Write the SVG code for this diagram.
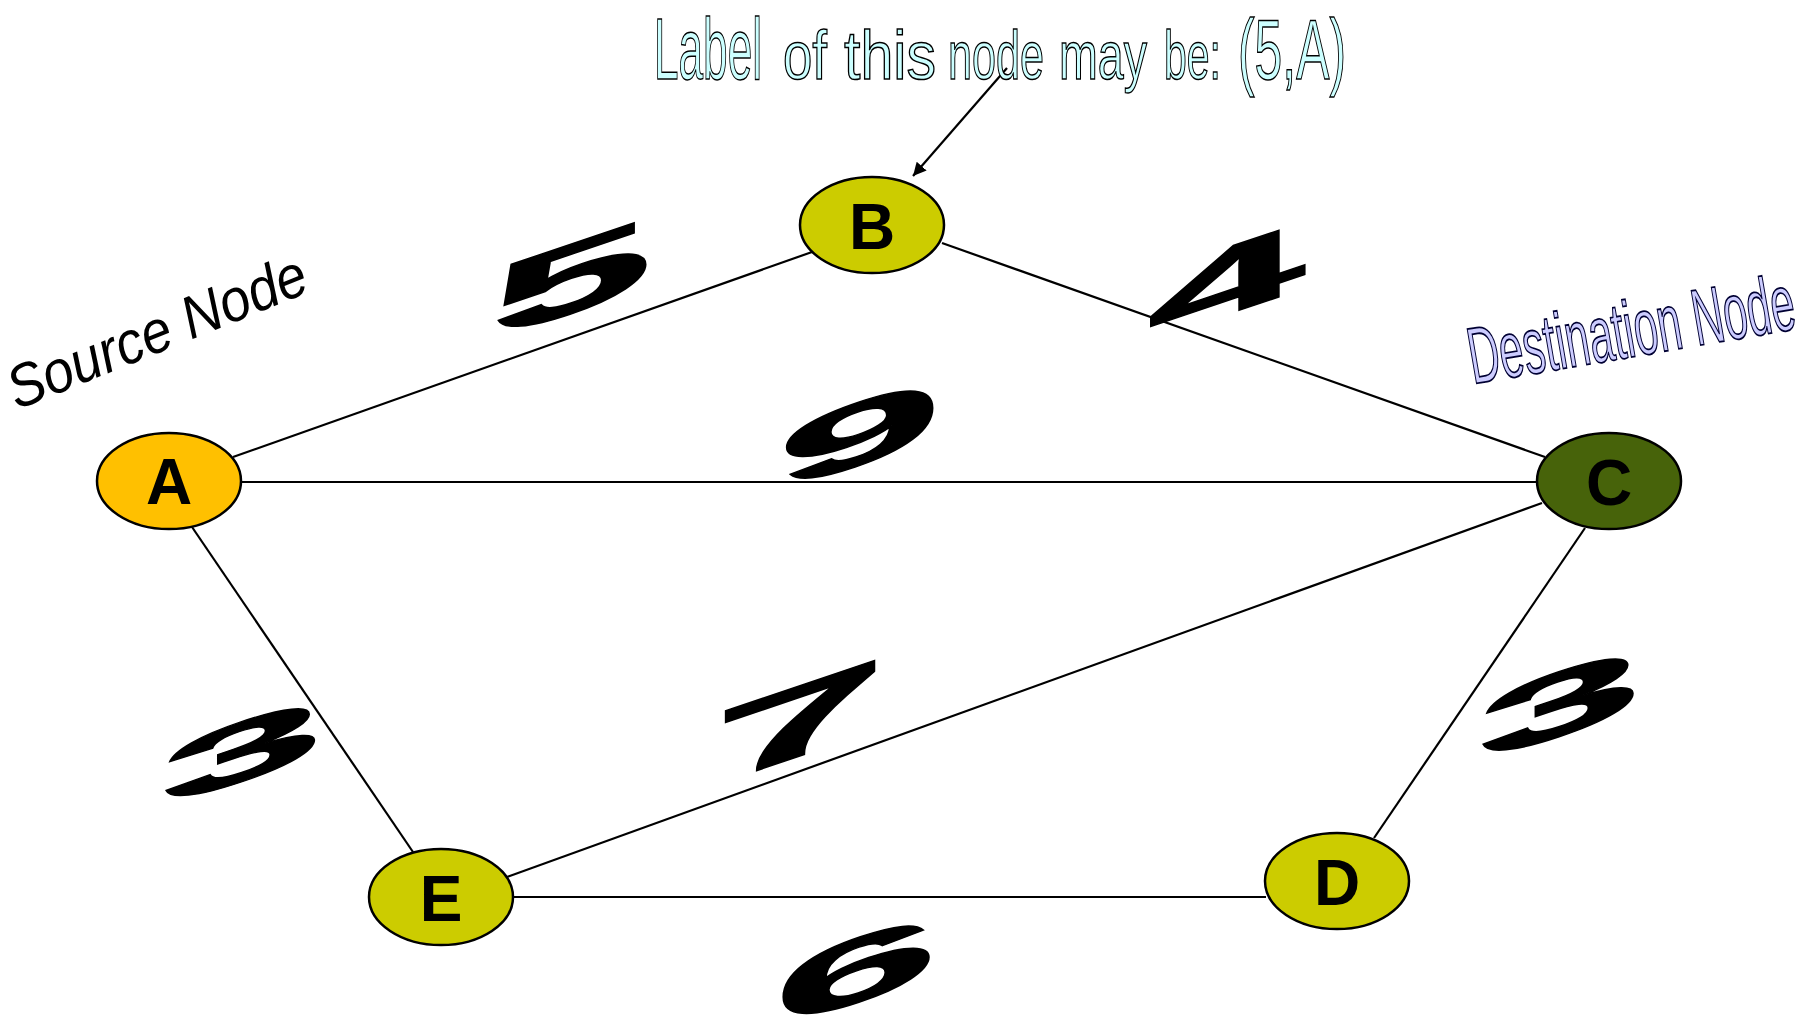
<svg xmlns="http://www.w3.org/2000/svg" width="1820" height="1016" viewBox="0 0 1820 1016">
<style>
.edge{stroke:#000;stroke-width:2.2;fill:none}
.node{stroke:#000;stroke-width:2.5}
.nl{font-family:"Liberation Sans",Arial,sans-serif;font-weight:bold;font-size:64px;text-anchor:middle;fill:#000}
.w{font-family:"Liberation Sans",Arial,sans-serif;font-weight:bold;font-size:100px;fill:#000;stroke:#000;stroke-width:1.6}
.lbl{font-family:"Liberation Sans",Arial,sans-serif;fill:#ccffff;stroke:#000;stroke-width:1.5}
.src{font-family:"Liberation Sans",Arial,sans-serif;font-style:italic;font-size:60px;fill:#000}
.dst{font-family:"Liberation Sans",Arial,sans-serif;font-size:80px;fill:#ccccff;stroke:#000033;stroke-width:1.8}
</style>
<defs>
<marker id="ah" viewBox="0 0 10 10" refX="10" refY="5" markerWidth="6" markerHeight="6" orient="auto" markerUnits="strokeWidth">
<path d="M0,0 L10,5 L0,10 z" fill="#000"/>
</marker>
</defs>
<rect width="1820" height="1016" fill="#fff"/>
<g id="connectors">
<line class="edge" x1="233" y1="457" x2="812" y2="252"/>
<line class="edge" x1="942" y1="243" x2="1545" y2="457"/>
<line class="edge" x1="241" y1="482" x2="1537" y2="482"/>
<line class="edge" x1="192" y1="527" x2="413" y2="852"/>
<line class="edge" x1="507" y1="877" x2="1542" y2="503"/>
<line class="edge" x1="513" y1="897" x2="1266" y2="897"/>
<line class="edge" x1="1374" y1="838" x2="1585" y2="528"/>
<line class="edge" x1="1007" y1="68" x2="913" y2="176" marker-end="url(#ah)"/>
</g>
<g id="weights">
<text class="w" transform="matrix(2.9 -0.98 0 1.0 491 340)">5</text>
<text class="w" transform="matrix(2.82 -0.95 0 0.97 1148 341)">4</text>
<text class="w" transform="matrix(2.95 -0.99 0 0.9 778 492)">9</text>
<text class="w" transform="matrix(3.1 -1.05 0 1.02 714 785)">7</text>
<text class="w" transform="matrix(2.92 -0.98 0 0.85 161 808)">3</text>
<text class="w" transform="matrix(2.95 -0.99 0 0.92 1478 763)">3</text>
<text class="w" transform="matrix(2.95 -0.99 0 0.92 774 1030)">6</text>
</g>
<g id="node-A">
<ellipse class="node" cx="169" cy="481" rx="72" ry="48" fill="#ffc000"/>
<text class="nl" x="169" y="504">A</text>
</g>
<g id="node-B">
<ellipse class="node" cx="872" cy="225" rx="72" ry="48" fill="#cccc00"/>
<text class="nl" x="872" y="249">B</text>
</g>
<g id="node-C">
<ellipse class="node" cx="1609" cy="481" rx="72" ry="48" fill="#47630a"/>
<text class="nl" x="1609" y="505">C</text>
</g>
<g id="node-D">
<ellipse class="node" cx="1337" cy="881" rx="72" ry="48" fill="#cccc00"/>
<text class="nl" x="1337" y="905">D</text>
</g>
<g id="node-E">
<ellipse class="node" cx="441" cy="897" rx="72" ry="48" fill="#cccc00"/>
<text class="nl" x="441" y="921">E</text>
</g>
<g id="annotations">
<text class="lbl" y="79"><tspan x="654" font-size="88" textLength="108" lengthAdjust="spacingAndGlyphs">Label</tspan><tspan x="783" font-size="68" textLength="44" lengthAdjust="spacingAndGlyphs">of</tspan><tspan x="844" font-size="68" textLength="92" lengthAdjust="spacingAndGlyphs">this</tspan><tspan x="948" font-size="68" textLength="96" lengthAdjust="spacingAndGlyphs">node</tspan><tspan x="1059" font-size="68" textLength="88" lengthAdjust="spacingAndGlyphs">may</tspan><tspan x="1164" font-size="68" textLength="57" lengthAdjust="spacingAndGlyphs">be:</tspan><tspan x="1238" font-size="86" textLength="108" lengthAdjust="spacingAndGlyphs">(5,A)</tspan></text>
<text class="src" transform="translate(17 410) rotate(-22)" textLength="318" lengthAdjust="spacingAndGlyphs">Source Node</text>
<text class="dst" transform="translate(1473 384) rotate(-9.7)" textLength="330" lengthAdjust="spacingAndGlyphs">Destination Node</text>
</g>
</svg>
